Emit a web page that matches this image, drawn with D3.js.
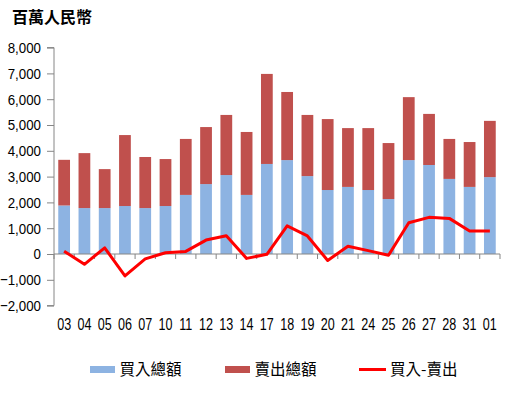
<!DOCTYPE html>
<html><head><meta charset="utf-8">
<script src="https://cdn.jsdelivr.net/npm/d3@7"></script>
<style>
body{margin:0;background:#fff;}
svg{display:block;}
.lbl text{font-family:"Liberation Sans",Arial,sans-serif;fill:#000;}
</style></head>
<body><svg id="c" width="516" height="396"></svg>
<script>
const categories = ["03","04","05","06","07","10","11","12","13","14","17","18","19","20","21","24","25","26","27","28","31","01"];
const buyTotal  = [1880,1780,1780,1860,1780,1860,2290,2710,3060,2290,3490,3640,3020,2480,2600,2480,2130,3640,3450,2910,2600,2980];
const sellTotal = [1770,2130,1510,2750,1980,1820,2170,2210,2330,2440,3490,2640,2370,2750,2280,2400,2170,2440,1980,1550,1740,2180];
const netBuy    = [110,-400,240,-850,-190,50,100,540,710,-170,-10,1090,700,-250,300,130,-50,1210,1420,1380,890,890];
const yTicks = [-2000,-1000,0,1000,2000,3000,4000,5000,6000,7000,8000];
const seriesNames = ["買入總額","賣出總額","買入-賣出"];

const svg = d3.select("#c");
const mLeft = 54, mRight = 500, mTop = 47.6, mBottom = 305.6;
const x = d3.scaleBand().domain(categories).range([mLeft, mRight]).paddingInner(0.42).paddingOuter(0.21);
const xb = d3.scaleBand().domain(categories).range([mLeft, mRight]);
const y = d3.scaleLinear().domain([-2000, 8000]).range([mBottom, mTop]);
const axisColor = "#868686";

// bars
const g = svg.append("g");
g.selectAll(".buy").data(categories).enter().append("rect")
  .attr("x", d => x(d)).attr("width", x.bandwidth())
  .attr("y", (d,i) => y(buyTotal[i])).attr("height", (d,i) => y(0) - y(buyTotal[i]))
  .attr("fill", "#8DB3E2");
g.selectAll(".sell").data(categories).enter().append("rect")
  .attr("x", d => x(d)).attr("width", x.bandwidth())
  .attr("y", (d,i) => y(buyTotal[i] + sellTotal[i])).attr("height", (d,i) => y(buyTotal[i]) - y(buyTotal[i] + sellTotal[i]))
  .attr("fill", "#C0504D");

// y axis
const ySx = 0.86;
const yAxis = svg.append("g").attr("class","lbl").attr("transform", `translate(${mLeft},0)`)
  .call(d3.axisLeft(y).tickValues(yTicks).tickSize(7).tickPadding(5).tickFormat(d3.format(",")));
yAxis.selectAll("path,line").attr("stroke", axisColor);
yAxis.select(".domain").attr("d", `M-7,${mTop}H0V${mBottom}H-7`);
yAxis.selectAll("text").attr("font-size", 15.5).attr("font-family", null)
  .attr("x", -13 / ySx).attr("transform", `scale(${ySx},1)`);

// x axis at zero line
const xAxis = svg.append("g").attr("transform", `translate(0,${y(0)})`);
xAxis.append("line").attr("x1", mLeft).attr("x2", mRight).attr("stroke", axisColor);
xAxis.selectAll(".tk").data(categories.concat(["end"])).enter().append("line")
  .attr("x1", (d,i) => i < categories.length ? xb(d) : mRight)
  .attr("x2", (d,i) => i < categories.length ? xb(d) : mRight)
  .attr("y1", 0).attr("y2", 5).attr("stroke", axisColor);

// x labels at bottom
const xSx = 0.74;
svg.append("g").attr("class","lbl").selectAll("text").data(categories).enter().append("text")
  .attr("transform", d => `translate(${xb(d) + xb.bandwidth()/2},330) scale(${xSx},1)`)
  .attr("font-size", 17).attr("text-anchor","middle").text(d => d);

// line
const line = d3.line().x((d,i) => x(categories[i]) + x.bandwidth()/2).y(d => y(d));
svg.append("path").datum(netBuy).attr("d", line).attr("fill","none")
  .attr("stroke","#FF0000").attr("stroke-width",3).attr("stroke-linejoin","round");

// title
svg.append("text").attr("x", 12).attr("y", 22.5).text("百萬人民幣")
  .attr("font-family", '"Noto Sans CJK TC","Noto Sans CJK SC",sans-serif')
  .attr("font-weight","bold").attr("font-size", 16).attr("fill","#000");

// legend
const lg = svg.append("g").attr("font-family", '"Noto Sans CJK TC","Noto Sans CJK SC",sans-serif').attr("font-size", 15.5);
const legendX = [90, 225, 359];
const legendColors = ["#8DB3E2","#C0504D","#FF0000"];
seriesNames.forEach((n,i) => {
  if (i < 2) lg.append("rect").attr("x", legendX[i]).attr("y", 366).attr("width", 25).attr("height", 7).attr("fill", legendColors[i]);
  else lg.append("line").attr("x1", legendX[i]).attr("x2", legendX[i] + 27).attr("y1", 369.5).attr("y2", 369.5).attr("stroke", legendColors[i]).attr("stroke-width", 3);
  lg.append("text").attr("x", legendX[i] + (i < 2 ? 29.5 : 31)).attr("y", 375).text(n).attr("fill","#000");
});
</script></body></html>
